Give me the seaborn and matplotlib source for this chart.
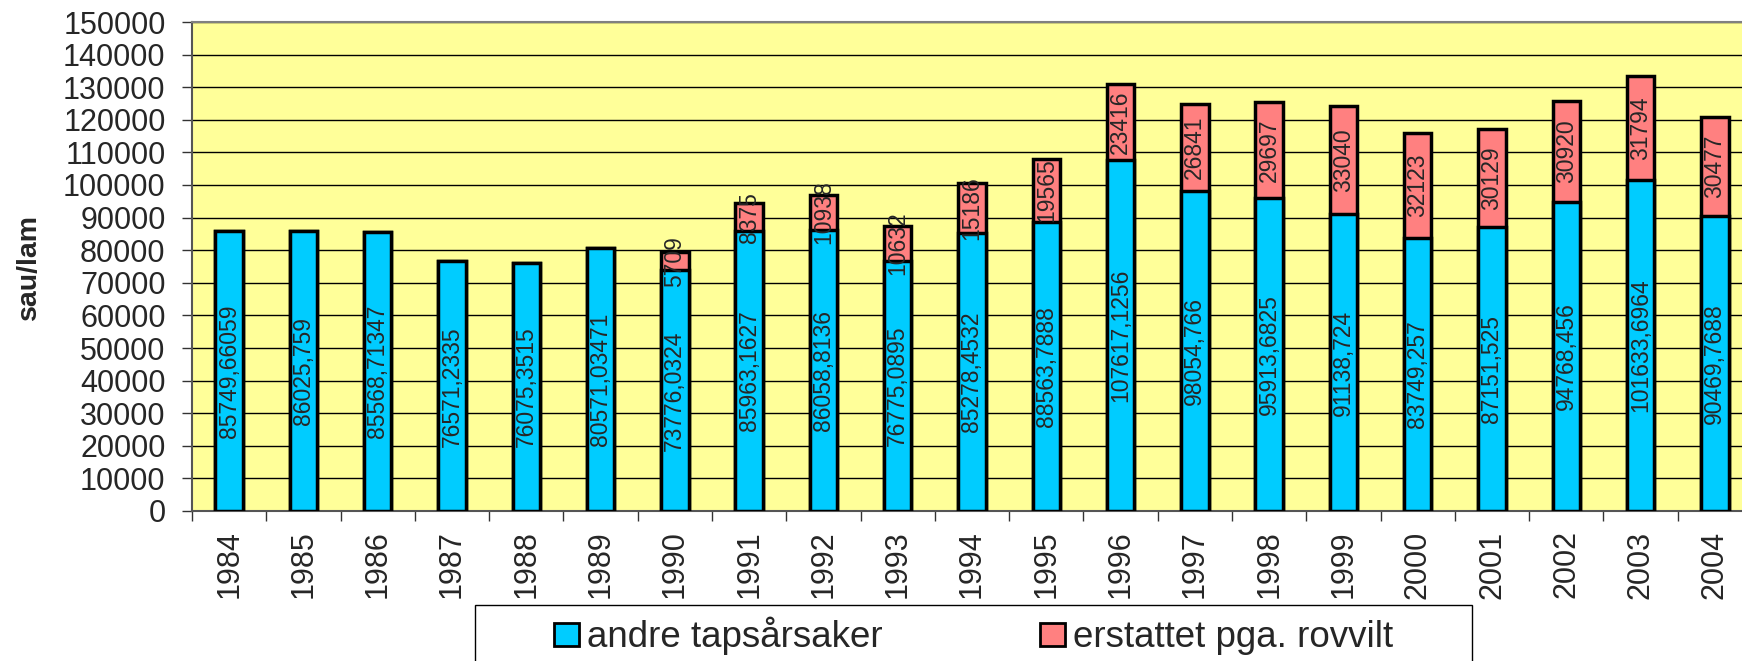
import numpy as np
import pandas as pd
import matplotlib
matplotlib.use('Agg')
import matplotlib.pyplot as plt
from matplotlib.patches import Patch, Rectangle
import seaborn as sns

# data
years = ['1984', '1985', '1986', '1987', '1988', '1989', '1990', '1991', '1992', '1993', '1994',
         '1995', '1996', '1997', '1998', '1999', '2000', '2001', '2002', '2003', '2004']
andre = [85749.66059, 86025.759, 85568.71347, 76571.2335, 76075.3515, 80571.03471,
         73776.0324, 85963.1627, 86058.8136, 76775.0895, 85278.4532, 88563.7888,
         107617.1256, 98054.766, 95913.6825, 91138.724, 83749.257, 87151.525,
         94768.456, 101633.6964, 90469.7688]
rovvilt = [0, 0, 0, 0, 0, 0, 5709, 8375, 10938, 10632, 15186, 19565, 23416, 26841,
           29697, 33040, 32123, 30129, 30920, 31794, 30477]
series_names = ['andre tapsårsaker', 'erstattet pga. rovvilt']

blue = '#00CCFF'
red = '#FF8080'

df = pd.DataFrame({'year': years, 'andre': andre, 'rovvilt': rovvilt})
df['total'] = df['andre'] + df['rovvilt']

sns.set_style('white')
plt.rcParams['font.family'] = ['Liberation Sans', 'DejaVu Sans']

fig = plt.figure(figsize=(17.42, 6.61), dpi=100)
ax = fig.add_axes([192 / 1742, 150 / 661, 1560 / 1742, 489 / 661])
ax.set_facecolor('#FFFF99')

# stacked bars: total (red) behind, andre (blue) in front
sns.barplot(data=df, x='year', y='total', color=red, saturation=1, width=0.37,
            edgecolor='black', linewidth=2.5, errorbar=None, ax=ax, zorder=3)
sns.barplot(data=df, x='year', y='andre', color=blue, saturation=1, width=0.37,
            edgecolor='black', linewidth=2.5, errorbar=None, ax=ax, zorder=4)

# value labels
for i, row in df.iterrows():
    ax.text(i, row['andre'] / 2, str(row['andre']).replace('.', ','), rotation=90,
            ha='center', va='center', fontsize=16.5, zorder=5)
    if row['rovvilt'] > 0:
        ax.text(i, row['andre'] + row['rovvilt'] / 2, str(int(row['rovvilt'])), rotation=90,
                ha='center', va='center', fontsize=16.5, zorder=5)

ax.set_ylim(0, 150000)
ax.set_yticks(np.arange(0, 150001, 10000))
ax.yaxis.grid(True, color='black', linewidth=1)
ax.set_axisbelow(True)
ax.tick_params(axis='y', which='major', labelsize=22, length=7, width=1, pad=12,
               left=True, color='#333333')

ax.set_xlim(-0.5, len(years) - 0.5)
ax.set_xticks(np.arange(-0.5, len(years), 1))
ax.set_xticklabels([])
ax.set_xticks(np.arange(len(years)), minor=True)
ax.set_xticklabels(years, minor=True, rotation=90, fontsize=22)
ax.tick_params(axis='x', which='major', length=7, width=1, bottom=True, color='#333333')
ax.tick_params(axis='x', which='minor', length=0, pad=14)
ax.set_xlabel('')

ax.set_ylabel('sau/lam', fontsize=20.5, fontweight='bold')
ax.yaxis.set_label_coords(-0.096, 0.5)

for side in ['top', 'right']:
    ax.spines[side].set_color('#808080')
    ax.spines[side].set_linewidth(1.5)
ax.spines['left'].set_color('#555555')
ax.spines['left'].set_linewidth(1.5)
ax.spines['bottom'].set_color('#555555')
ax.spines['bottom'].set_linewidth(1.5)

# legend box (cut off at bottom like the reference)
fig.patches.append(Rectangle((475 / 1742, -0.05), (1472 - 475) / 1742, (661 - 605) / 661 + 0.05,
                             transform=fig.transFigure, facecolor='white', edgecolor='black',
                             linewidth=1, zorder=10))
handles = [Patch(facecolor=blue, edgecolor='black', linewidth=2),
           Patch(facecolor=red, edgecolor='black', linewidth=2)]
leg = fig.legend(handles, series_names, loc='center left', bbox_to_anchor=(554 / 1742, 25 / 661),
                 ncol=2, frameon=False, fontsize=26.5, handlelength=0.68, handleheight=0.6,
                 handletextpad=0.22, columnspacing=4.27, borderpad=0, borderaxespad=0)
leg.set_zorder(11)

plt.savefig('out.png', dpi=100)
plt.close()
